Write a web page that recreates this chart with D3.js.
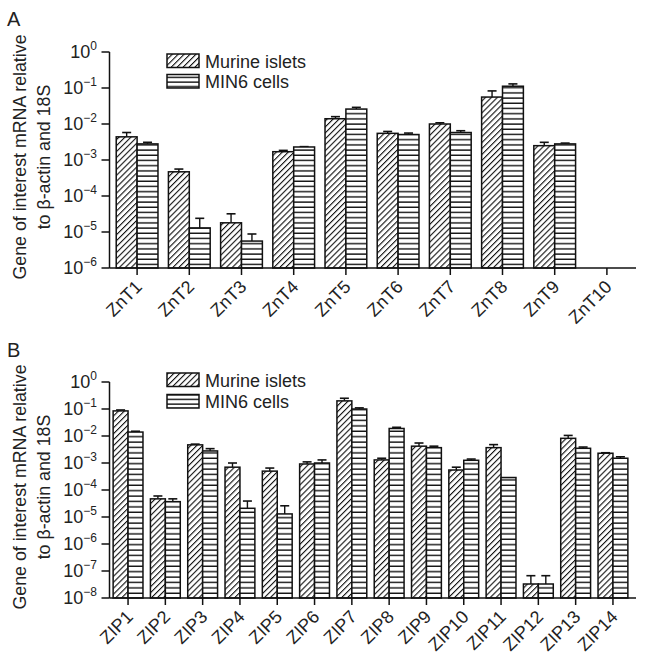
<html>
<head>
  <script src="https://d3js.org/d3.v7.min.js"></script>
  <style>
  body { margin: 0; background: #fff; }
  text { font-family: "Liberation Sans", Arial, sans-serif; fill: #222; }
  </style>
</head>
<body>
<div id="chart"></div>
<script>
var width = 645,
  height = 660;

// panel A: ZnT transporters
var zntGenes = ["ZnT1", "ZnT2", "ZnT3", "ZnT4", "ZnT5", "ZnT6", "ZnT7", "ZnT8", "ZnT9", "ZnT10"];
var zntIslet = [4.4e-3, 4.7e-4, 1.8e-5, 1.7e-3, 1.4e-2, 5.5e-3, 1.0e-2, 5.6e-2, 2.5e-3, null];
var zntIsletErr = [5.8e-3, 5.6e-4, 3.2e-5, 1.85e-3, 1.6e-2, 6.2e-3, 1.08e-2, 8.3e-2, 3.1e-3, null];
var zntMin6 = [2.8e-3, 1.3e-5, 5.6e-6, 2.3e-3, 2.6e-2, 5.1e-3, 5.8e-3, 0.112, 2.8e-3, null];
var zntMin6Err = [3.1e-3, 2.4e-5, 8.8e-6, 2.35e-3, 2.9e-2, 5.6e-3, 6.5e-3, 0.13, 2.95e-3, null];
var zntTicks = [1, 1e-1, 1e-2, 1e-3, 1e-4, 1e-5, 1e-6];
var zntExp = ["0", "\u22121", "\u22122", "\u22123", "\u22124", "\u22125", "\u22126"];

// panel B: ZIP transporters
var zipGenes = ["ZIP1", "ZIP2", "ZIP3", "ZIP4", "ZIP5", "ZIP6", "ZIP7", "ZIP8", "ZIP9", "ZIP10", "ZIP11", "ZIP12", "ZIP13", "ZIP14"];
var zipIslet = [0.085, 4.7e-5, 4.7e-3, 7e-4, 5e-4, 9.2e-4, 0.2, 1.3e-3, 4.2e-3, 5.5e-4, 3.7e-3, 3.3e-8, 8.2e-3, 2.3e-3];
var zipIsletErr = [0.092, 6e-5, 5e-3, 1e-3, 6.5e-4, 1.1e-3, 0.25, 1.5e-3, 5.5e-3, 7e-4, 4.8e-3, 6.7e-8, 1.05e-2, 2.4e-3];
var zipMin6 = [0.014, 3.7e-5, 2.8e-3, 2.1e-5, 1.3e-5, 1.0e-3, 0.1, 1.9e-2, 3.7e-3, 1.26e-3, 2.9e-4, 3.3e-8, 3.5e-3, 1.5e-3];
var zipMin6Err = [0.015, 4.7e-5, 3.4e-3, 3.9e-5, 2.6e-5, 1.3e-3, 0.11, 2.1e-2, 4.2e-3, 1.4e-3, 2.9e-4, 6.7e-8, 3.9e-3, 1.7e-3];
var zipTicks = [1, 1e-1, 1e-2, 1e-3, 1e-4, 1e-5, 1e-6, 1e-7, 1e-8];
var zipExp = ["0", "\u22121", "\u22122", "\u22123", "\u22124", "\u22125", "\u22126", "\u22127", "\u22128"];

var seriesNames = ["Murine islets", "MIN6 cells"];

var svg = d3.select("#chart").append("svg")
    .attr("width", width)
    .attr("height", height);

var defs = svg.append("defs");

// diagonal hatch for islets
var diag = defs.append("pattern")
    .attr("id", "diag")
    .attr("patternUnits", "userSpaceOnUse")
    .attr("width", 4.2)
    .attr("height", 4.2)
    .attr("patternTransform", "rotate(45)");
diag.append("rect").attr("width", 4.2).attr("height", 4.2).attr("fill", "white");
diag.append("line")
    .attr("x1", 0).attr("y1", 0).attr("x2", 0).attr("y2", 4.2)
    .attr("stroke", "#111").attr("stroke-width", 2.2);

function horizPattern(id, gap){
  var p = defs.append("pattern")
      .attr("id", id)
      .attr("patternUnits", "userSpaceOnUse")
      .attr("width", 10)
      .attr("height", gap);
  p.append("rect").attr("width", 10).attr("height", gap).attr("fill", "white");
  p.append("line")
      .attr("x1", 0).attr("y1", gap - 0.7).attr("x2", 10).attr("y2", gap - 0.7)
      .attr("stroke", "#111").attr("stroke-width", 1.4);
}
horizPattern("horizA", 5.2);
horizPattern("horizB", 5.4);
horizPattern("horizL", 4.6);

function drawPanel(opt){
  var g = svg.append("g");

  var x = d3.scaleBand().domain(opt.genes).range([opt.x0, opt.x1]).padding(0);
  var y = d3.scaleLog().domain([opt.ticks[opt.ticks.length - 1], 1]).range([opt.yBottom, opt.yTop]);
  var bw = x.step() * 0.4;
  var base = opt.ticks[opt.ticks.length - 1];

  // panel letter
  g.append("text")
    .attr("x", 7)
    .attr("y", opt.letterY)
    .attr("font-size", 20)
    .text(opt.letter);

  // y axis label
  var lab = g.append("text")
    .attr("transform", "translate(0," + ((opt.yTop + opt.yBottom) / 2 - 3) + ") rotate(-90)")
    .attr("text-anchor", "middle")
    .attr("font-size", 17.8);
  lab.append("tspan").attr("x", 0).attr("y", 26).text("Gene of interest mRNA relative");
  lab.append("tspan").attr("x", 0).attr("y", 49.5).text("to \u03b2-actin and 18S");

  // bars
  var groups = [
    {vals: opt.islet, errs: opt.isletErr, fill: "url(#diag)", dx: -bw},
    {vals: opt.min6, errs: opt.min6Err, fill: "url(#" + opt.horiz + ")", dx: 0}
  ];

  groups.forEach(function(s){
    opt.genes.forEach(function(gene, i){
      var v = s.vals[i];
      if (v == null) return;
      var cx = x(gene) + x.step() / 2 + s.dx;
      var e = s.errs[i];
      // error whisker
      if (e != null && e > v){
        g.append("line")
          .attr("x1", cx + bw / 2).attr("x2", cx + bw / 2)
          .attr("y1", y(v)).attr("y2", y(e))
          .attr("stroke", "#111").attr("stroke-width", 1.4);
        g.append("line")
          .attr("x1", cx + bw / 2 - 4.5).attr("x2", cx + bw / 2 + 4.5)
          .attr("y1", y(e)).attr("y2", y(e))
          .attr("stroke", "#111").attr("stroke-width", 1.6);
      }
      g.append("rect")
        .attr("x", cx)
        .attr("y", y(v))
        .attr("width", bw)
        .attr("height", y(base) - y(v))
        .attr("fill", s.fill)
        .attr("stroke", "#111")
        .attr("stroke-width", 1.5);
    });
  });

  // y axis
  g.append("line")
    .attr("x1", opt.axisX).attr("x2", opt.axisX)
    .attr("y1", opt.yTop).attr("y2", opt.yBottom)
    .attr("stroke", "#111").attr("stroke-width", 1.5);

  opt.ticks.forEach(function(t, i){
    g.append("line")
      .attr("x1", opt.axisX - 8).attr("x2", opt.axisX)
      .attr("y1", y(t)).attr("y2", y(t))
      .attr("stroke", "#111").attr("stroke-width", 1.5);
    var tt = g.append("text")
      .attr("x", 97)
      .attr("y", y(t) + 6)
      .attr("text-anchor", "end")
      .attr("font-size", 18);
    tt.append("tspan").text("10");
    tt.append("tspan")
      .attr("dy", -8.5)
      .attr("font-size", 12)
      .text(opt.exp[i]);
  });

  // x axis
  g.append("line")
    .attr("x1", opt.axisX).attr("x2", 636)
    .attr("y1", opt.yBottom).attr("y2", opt.yBottom)
    .attr("stroke", "#111").attr("stroke-width", 1.5);

  opt.genes.forEach(function(gene){
    var cx = x(gene) + x.step() / 2;
    g.append("line")
      .attr("x1", cx).attr("x2", cx)
      .attr("y1", opt.yBottom).attr("y2", opt.yBottom + 7)
      .attr("stroke", "#111").attr("stroke-width", 1.5);
    g.append("text")
      .attr("transform", "translate(" + (cx + 6) + "," + (opt.yBottom + 20) + ") rotate(-45)")
      .attr("text-anchor", "end")
      .attr("font-size", 18)
      .text(gene);
  });

  // legend
  seriesNames.forEach(function(name, i){
    var ly = opt.legendY + i * opt.legendGap;
    g.append("rect")
      .attr("x", 167).attr("y", ly)
      .attr("width", 32).attr("height", 13.5)
      .attr("fill", i == 0 ? "url(#diag)" : "url(#horizL)")
      .attr("stroke", "#111").attr("stroke-width", 1.5);
    g.append("text")
      .attr("x", 205)
      .attr("y", ly + 13.5)
      .attr("font-size", 18)
      .text(name);
  });
}

drawPanel({
  letter: "A", genes: zntGenes,
  islet: zntIslet, isletErr: zntIsletErr, min6: zntMin6, min6Err: zntMin6Err,
  ticks: zntTicks, exp: zntExp,
  x0: 111, x1: 633, axisX: 109.5, yTop: 52, yBottom: 268, letterY: 26,
  horiz: "horizA", legendY: 54, legendGap: 20.5
});

drawPanel({
  letter: "B", genes: zipGenes,
  islet: zipIslet, isletErr: zipIsletErr, min6: zipMin6, min6Err: zipMin6Err,
  ticks: zipTicks, exp: zipExp,
  x0: 109.4, x1: 631.6, axisX: 109.5, yTop: 382, yBottom: 598, letterY: 357,
  horiz: "horizB", legendY: 373, legendGap: 21.5
});
</script>
</body></html>
